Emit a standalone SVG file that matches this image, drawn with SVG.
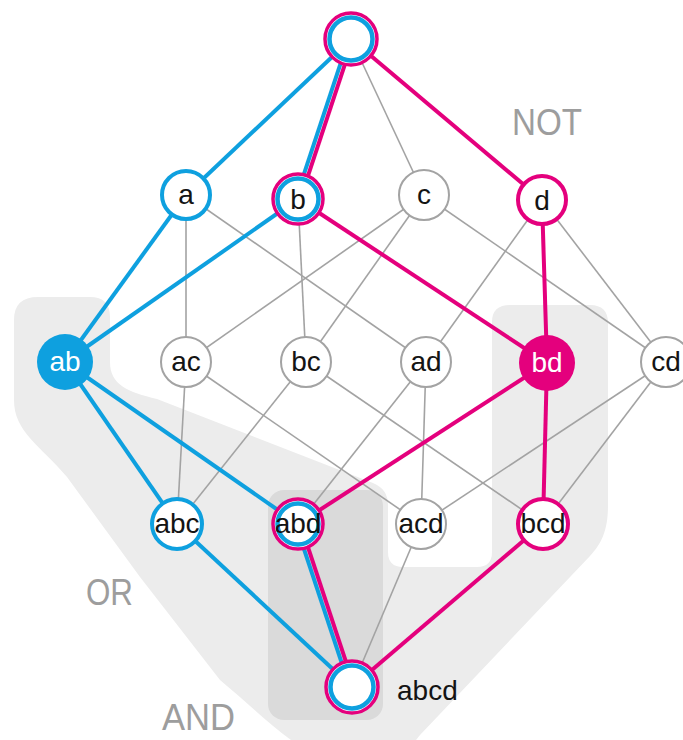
<svg xmlns="http://www.w3.org/2000/svg" width="683" height="740" viewBox="0 0 683 740">
<style>
.bg{fill:#ececec}
.bg2{fill:#dadada}
.g{stroke:#a3a3a3;stroke-width:1.6;fill:none}
.bl{stroke:#0ea0df;stroke-width:4;fill:none}
.pk{stroke:#e4007d;stroke-width:4;fill:none}
.ng{fill:#fff;stroke:#a3a3a3;stroke-width:2}
.nb{fill:#fff;stroke:#0ea0df;stroke-width:4}
.np{fill:#fff;stroke:#e4007d;stroke-width:4}
.po{fill:#fff;stroke:#e4007d;stroke-width:3.5}
.bi{fill:none;stroke:#0ea0df;stroke-width:4.5}
.t{font-family:"Liberation Sans",Arial,sans-serif;font-size:28px;fill:#141414;text-anchor:middle}
.tw{fill:#fff}
.lab{font-family:"Liberation Sans",Arial,sans-serif;font-size:37px;fill:#9d9d9d}
</style>
<g id="background">
<path class="bg" d="M14 320 Q14 297 38 297 L90 297 Q110 297 110 317 L110 362 C110 385 128 392 157 399 L373 483 Q388 489 388 505 L388 552 Q388 567 403 567 L477 567 Q492 567 492 552 L492 322 Q492 305 510 305 L590 305 Q608 305 608 323 L608 505 C608 530 602 543 590 556 L420 735 L412 745 L298 745 C272 727 250 705 220 680 L140 577 L67 477 C40 445 14 432 14 400 Z"/>
<rect class="bg2" x="268" y="490" width="115" height="230" rx="16"/>
</g>
<g id="labels">
<text class="lab" x="512" y="135" textLength="70" lengthAdjust="spacingAndGlyphs">NOT</text>
<text class="lab" x="86" y="605" textLength="47" lengthAdjust="spacingAndGlyphs">OR</text>
<text class="lab" x="162" y="730" textLength="73" lengthAdjust="spacingAndGlyphs">AND</text>
</g>
<g id="connectors">
<line class="g" x1="351" y1="39" x2="424" y2="195"/>
<line class="g" x1="186" y1="195" x2="186" y2="362"/>
<line class="g" x1="186" y1="195" x2="426" y2="362"/>
<line class="g" x1="298" y1="199" x2="306" y2="362"/>
<line class="g" x1="424" y1="195" x2="186" y2="362"/>
<line class="g" x1="424" y1="195" x2="306" y2="362"/>
<line class="g" x1="424" y1="195" x2="666" y2="362"/>
<line class="g" x1="542" y1="200" x2="426" y2="362"/>
<line class="g" x1="542" y1="200" x2="666" y2="362"/>
<line class="g" x1="186" y1="362" x2="177" y2="524"/>
<line class="g" x1="186" y1="362" x2="421" y2="524"/>
<line class="g" x1="306" y1="362" x2="177" y2="524"/>
<line class="g" x1="306" y1="362" x2="543" y2="524"/>
<line class="g" x1="426" y1="362" x2="298" y2="524"/>
<line class="g" x1="426" y1="362" x2="421" y2="524"/>
<line class="g" x1="666" y1="362" x2="421" y2="524"/>
<line class="g" x1="666" y1="362" x2="543" y2="524"/>
<line class="g" x1="421" y1="524" x2="352" y2="687"/>
<line class="bl" x1="351" y1="39" x2="186" y2="195"/>
<line class="bl" x1="186" y1="195" x2="65" y2="362"/>
<line class="bl" x1="298" y1="199" x2="65" y2="362"/>
<line class="bl" x1="65" y1="362" x2="177" y2="524"/>
<line class="bl" x1="65" y1="362" x2="298" y2="524"/>
<line class="bl" x1="177" y1="524" x2="352" y2="687"/>
<line class="pk" x1="351" y1="39" x2="542" y2="200"/>
<line class="pk" x1="298" y1="199" x2="547" y2="363"/>
<line class="pk" x1="542" y1="200" x2="547" y2="363"/>
<line class="pk" x1="547" y1="363" x2="298" y2="524"/>
<line class="pk" x1="547" y1="363" x2="543" y2="524"/>
<line class="pk" x1="543" y1="524" x2="352" y2="687"/>
<line class="bl" x1="348.9" y1="38.3" x2="295.9" y2="198.3"/>
<line class="pk" x1="353.1" y1="39.7" x2="300.1" y2="199.7"/>
<line class="bl" x1="295.9" y1="524.7" x2="349.9" y2="687.7"/>
<line class="pk" x1="300.1" y1="523.3" x2="354.1" y2="686.3"/>
</g>
<g id="n-top"><circle class="po" cx="351" cy="39" r="26"/><circle class="bi" cx="351" cy="39" r="21.5"/></g>
<g id="n-a"><circle class="nb" cx="186" cy="195" r="24"/><text class="t" x="186" y="204">a</text></g>
<g id="n-b"><circle class="po" cx="298" cy="199" r="25"/><circle class="bi" cx="298" cy="199" r="20.5"/><text class="t" x="298" y="209">b</text></g>
<g id="n-c"><circle class="ng" cx="424" cy="195" r="25"/><text class="t" x="424" y="204">c</text></g>
<g id="n-d"><circle class="np" cx="542" cy="200" r="24"/><text class="t" x="542" y="210">d</text></g>
<g id="n-ab"><circle fill="#0ea0df" cx="65" cy="362" r="28"/><text class="t tw" x="65" y="371">ab</text></g>
<g id="n-ac"><circle class="ng" cx="186" cy="362" r="25"/><text class="t" x="186" y="371">ac</text></g>
<g id="n-bc"><circle class="ng" cx="306" cy="362" r="25"/><text class="t" x="306" y="371">bc</text></g>
<g id="n-ad"><circle class="ng" cx="426" cy="362" r="25"/><text class="t" x="426" y="371">ad</text></g>
<g id="n-bd"><circle fill="#e4007d" cx="547" cy="363" r="28"/><text class="t tw" x="547" y="372">bd</text></g>
<g id="n-cd"><circle class="ng" cx="666" cy="362" r="25"/><text class="t" x="666" y="371">cd</text></g>
<g id="n-abc"><circle class="nb" cx="177" cy="524" r="25"/><text class="t" x="177" y="533">abc</text></g>
<g id="n-abd"><circle class="po" cx="298" cy="524" r="25"/><circle class="bi" cx="298" cy="524" r="20.5"/><text class="t" x="298" y="533">abd</text></g>
<g id="n-acd"><circle class="ng" cx="421" cy="524" r="25"/><text class="t" x="421" y="533">acd</text></g>
<g id="n-bcd"><circle class="np" cx="543" cy="524" r="25"/><text class="t" x="543" y="533">bcd</text></g>
<g id="n-abcd"><circle class="po" cx="352" cy="687" r="26"/><circle class="bi" cx="352" cy="687" r="21.5"/><text class="t" x="397" y="700" style="text-anchor:start">abcd</text></g>
</svg>
